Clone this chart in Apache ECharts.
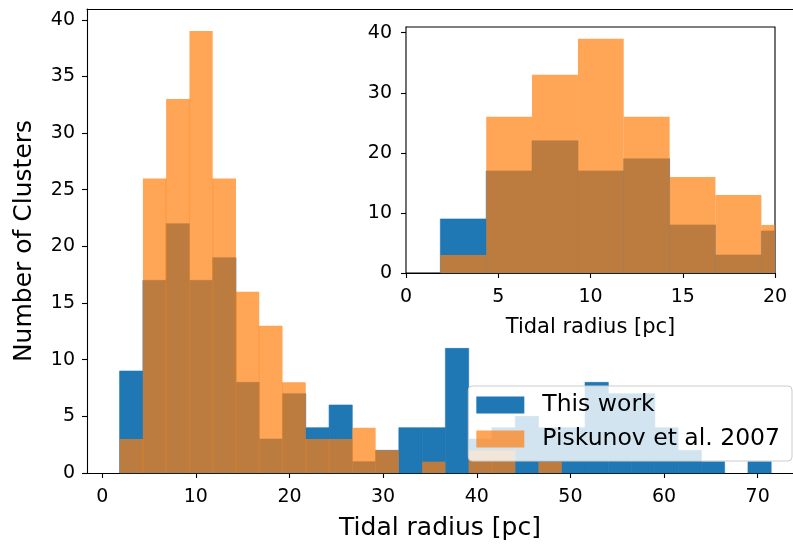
<!DOCTYPE html>
<html><head><meta charset="utf-8">
<script src="https://cdn.jsdelivr.net/npm/echarts@6/dist/echarts.min.js"></script>
<style>html,body{margin:0;padding:0;background:#fff}#c{width:793px;height:545px}</style>
</head><body><div id="c"></div>
<script>
// Histogram bin edges (pc)
const binEdges = [1.86, 4.35, 6.83, 9.32, 11.80, 14.29, 16.77, 19.26, 21.74, 24.23,
  26.71, 29.20, 31.68, 34.17, 36.65, 39.14, 41.62, 44.11, 46.59, 49.08,
  51.56, 54.05, 56.53, 59.02, 61.50, 63.99, 66.47, 68.96, 71.44];
// Counts per bin
const thisWork = [9, 17, 22, 17, 19, 8, 3, 7, 4, 6, 1, 2, 4, 4, 11, 3, 4, 5, 4, 4, 8, 7, 7, 4, 2, 1, 0, 1];
const piskunov = [3, 26, 33, 39, 26, 16, 13, 8, 3, 3, 4, 2, 0, 1, 0, 2, 2, 0, 1, 0, 0, 0, 0, 0, 0, 0, 0, 0];
const mainXTicks = [0, 10, 20, 30, 40, 50, 60, 70];
const mainYTicks = [0, 5, 10, 15, 20, 25, 30, 35, 40];
const insetXTicks = [0, 5, 10, 15, 20];
const insetYTicks = [0, 10, 20, 30, 40];
const seriesNames = ['This work', 'Piskunov et al. 2007'];

const FONT = 'DejaVu Sans';
const BLUE = '#1f77b4';
const ORANGE = 'rgba(255,127,14,0.7)';

function histData(values) {
  return values.map((v, i) => [binEdges[i], binEdges[i + 1], v, i > 0 ? values[i - 1] : 0]);
}

function makeRender(opaque, edgeLines) {
  return function (params, api) {
    const x0 = api.value(0), x1 = api.value(1), v = api.value(2), prev = api.value(3);
    if (!v) return null;
    const p0 = api.coord([x0, 0]);
    const p1 = api.coord([x1, v]);
    const cs = params.coordSys;
    const shape = echarts.graphic.clipRectByRect(
      { x: p0[0], y: p1[1], width: p1[0] - p0[0], height: p0[1] - p1[1] },
      { x: cs.x, y: cs.y, width: cs.width, height: cs.height });
    if (!shape) return null;
    const st = api.style();
    if (opaque) { st.stroke = st.fill; st.lineWidth = 0.6; }
    const children = [{ type: 'rect', shape: shape, style: st }];
    if (edgeLines && prev > 0 && p0[0] >= cs.x) {
      const h = Math.min(v, prev);
      const pt = api.coord([x0, h]);
      children.push({ type: 'line', shape: { x1: p0[0], y1: pt[1], x2: p0[0], y2: p0[1] },
        style: { stroke: 'rgba(255,127,14,0.5)', lineWidth: 1 } });
    }
    return { type: 'group', children: children };
  };
}

const axisLineStyle = { color: '#000', width: 1.1 };
const tickStyle = { color: '#000', width: 1.1 };

const chart = echarts.init(document.getElementById('c'), null, { renderer: 'canvas' });
chart.setOption({
  animation: false,
  backgroundColor: '#fff',
  textStyle: { fontFamily: FONT },
  grid: [
    { left: 87, right: 0, top: 9, bottom: 72, show: false, containLabel: false, outerBoundsMode: 'none' },
    { left: 406, right: 18, top: 27, bottom: 272, show: true, borderColor: '#000', borderWidth: 1.1,
      backgroundColor: '#fff', z: 3, containLabel: false, outerBoundsMode: 'none' }
  ],
  legend: {
    data: seriesNames,
    orient: 'vertical',
    right: 1, top: 386,
    padding: [6, 12, 9, 8],
    itemWidth: 48, itemHeight: 17, itemGap: 8,
    icon: 'rect',
    backgroundColor: 'rgba(255,255,255,0.8)',
    borderColor: '#cccccc', borderWidth: 1, borderRadius: 4,
    textStyle: { fontSize: 23.5, color: '#000', fontFamily: FONT, lineHeight: 26, padding: [0, 0, 0, 13] },
    z: 10
  },
  xAxis: [
    {
      gridIndex: 0, type: 'value', min: -1.62, max: 73.77, position: 'bottom',
      axisLine: { show: true, onZero: false, lineStyle: axisLineStyle },
      axisTick: { show: true, customValues: mainXTicks, length: 5, lineStyle: tickStyle },
      axisLabel: { customValues: mainXTicks, fontSize: 19, color: '#000', margin: 15, fontFamily: FONT },
      splitLine: { show: false },
      name: 'Tidal radius [pc]', nameLocation: 'middle', nameGap: 43,
      nameTextStyle: { fontSize: 25, color: '#000', fontFamily: FONT }
    },
    {
      gridIndex: 0, type: 'value', min: -1.62, max: 73.77, position: 'top',
      axisLine: { show: true, onZero: false, lineStyle: axisLineStyle },
      axisTick: { show: false }, axisLabel: { show: false }, splitLine: { show: false }
    },
    {
      gridIndex: 1, type: 'value', min: 0, max: 20, position: 'bottom',
      axisLine: { show: true, onZero: false, lineStyle: axisLineStyle },
      axisTick: { show: true, customValues: insetXTicks, length: 5, lineStyle: tickStyle },
      axisLabel: { customValues: insetXTicks, fontSize: 19, color: '#000', margin: 15, fontFamily: FONT },
      splitLine: { show: false },
      name: 'Tidal radius [pc]', nameLocation: 'middle', nameGap: 44,
      nameTextStyle: { fontSize: 21, color: '#000', fontFamily: FONT }
    }
  ],
  yAxis: [
    {
      gridIndex: 0, type: 'value', min: 0, max: 40.95,
      axisLine: { show: true, onZero: false, lineStyle: axisLineStyle },
      axisTick: { show: true, customValues: mainYTicks, length: 5, lineStyle: tickStyle },
      axisLabel: { customValues: mainYTicks, fontSize: 19, color: '#000', margin: 12, fontFamily: FONT },
      splitLine: { show: false },
      name: 'Number of Clusters', nameLocation: 'middle', nameGap: 50, nameRotate: 90,
      nameTextStyle: { fontSize: 25, color: '#000', fontFamily: FONT }
    },
    {
      gridIndex: 1, type: 'value', min: 0, max: 40.95,
      axisLine: { show: true, onZero: false, lineStyle: axisLineStyle },
      axisTick: { show: true, customValues: insetYTicks, length: 5, lineStyle: tickStyle },
      axisLabel: { customValues: insetYTicks, fontSize: 19, color: '#000', margin: 14, fontFamily: FONT },
      splitLine: { show: false }
    }
  ],
  series: [
    { name: seriesNames[0], type: 'custom', xAxisIndex: 0, yAxisIndex: 0, renderItem: makeRender(true, false),
      itemStyle: { color: BLUE }, encode: { x: [0, 1], y: 2 }, data: histData(thisWork), z: 2 },
    { name: seriesNames[1], type: 'custom', xAxisIndex: 0, yAxisIndex: 0, renderItem: makeRender(false, true),
      itemStyle: { color: ORANGE }, encode: { x: [0, 1], y: 2 }, data: histData(piskunov), z: 2 },
    { name: seriesNames[0], type: 'custom', xAxisIndex: 2, yAxisIndex: 1, renderItem: makeRender(true, false),
      itemStyle: { color: BLUE }, encode: { x: [0, 1], y: 2 }, data: histData(thisWork), z: 4 },
    { name: seriesNames[1], type: 'custom', xAxisIndex: 2, yAxisIndex: 1, renderItem: makeRender(false, false),
      itemStyle: { color: ORANGE }, encode: { x: [0, 1], y: 2 }, data: histData(piskunov), z: 4 }
  ]
});
</script>
</body></html>
